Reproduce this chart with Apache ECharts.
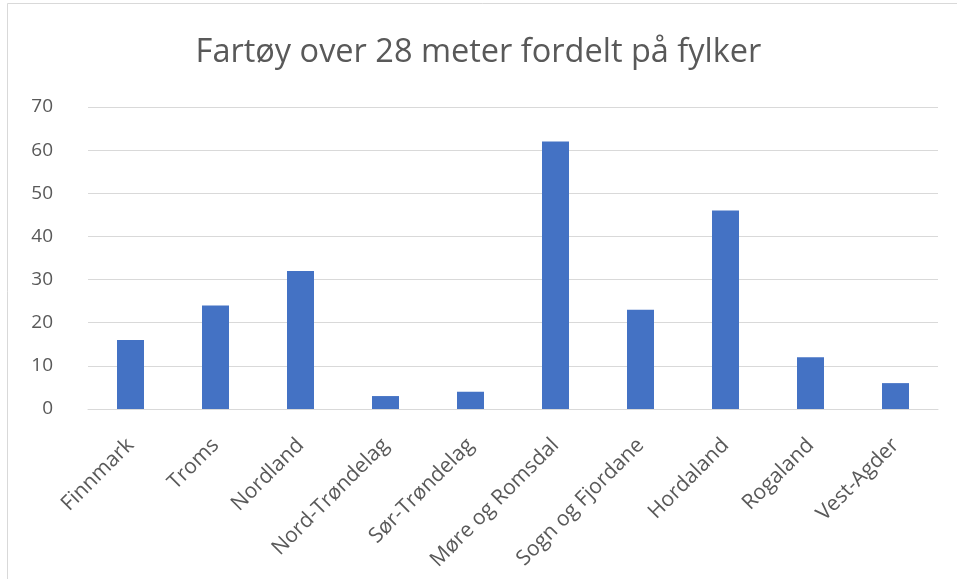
<!DOCTYPE html>
<html>
<head>
<meta charset="utf-8">
<script src="https://cdn.jsdelivr.net/npm/echarts@6/dist/echarts.min.js"></script>
<style>
  html, body { margin: 0; padding: 0; background: #fff; }
  #chart { width: 957px; height: 579px; }
</style>
</head>
<body>
<div id="chart"></div>
<script>
const categories = ['Finnmark', 'Troms', 'Nordland', 'Nord-Trøndelag', 'Sør-Trøndelag',
    'Møre og Romsdal', 'Sogn og Fjordane', 'Hordaland', 'Rogaland', 'Vest-Agder'];
const values = [16, 24, 32, 3, 4, 62, 23, 46, 12, 6];
const titleText = 'Fartøy over 28 meter fordelt på fylker';

var chart = echarts.init(document.getElementById('chart'));
var option = {
    backgroundColor: '#fff',
    animation: false,
    title: {
        text: titleText,
        left: 'center',
        top: 31,
        textStyle: {
            fontFamily: 'Open Sans',
            fontWeight: 'normal',
            fontSize: 32.5,
            color: '#595959'
        }
    },
    // thin frame round the chart area, like the Excel chart border
    graphic: [{
        type: 'rect',
        shape: { x: 7.5, y: 3.5, width: 960, height: 580 },
        style: { fill: 'none', stroke: '#d9d9d9', lineWidth: 1 }
    }],
    grid: { left: 88, right: 19, top: 107, bottom: 170 },
    xAxis: {
        type: 'category',
        data: categories,
        axisTick: { show: false },
        axisLine: { lineStyle: { color: '#d9d9d9', width: 1 } },
        axisLabel: {
            rotate: 45,
            interval: 0,
            margin: 33,
            fontFamily: 'Open Sans',
            fontSize: 21,
            color: '#595959'
        }
    },
    yAxis: {
        type: 'value',
        min: 0,
        max: 70,
        interval: 10,
        axisLine: { show: false },
        axisTick: { show: false },
        splitLine: { lineStyle: { color: '#d9d9d9', width: 1 } },
        axisLabel: {
            margin: 35,
            fontFamily: 'Open Sans',
            fontSize: 19,
            color: '#595959'
        }
    },
    series: [{
        type: 'bar',
        data: values,
        barWidth: 27,
        itemStyle: { color: '#4472c4' }
    }]
};
chart.setOption(option);
</script>
</body>
</html>
